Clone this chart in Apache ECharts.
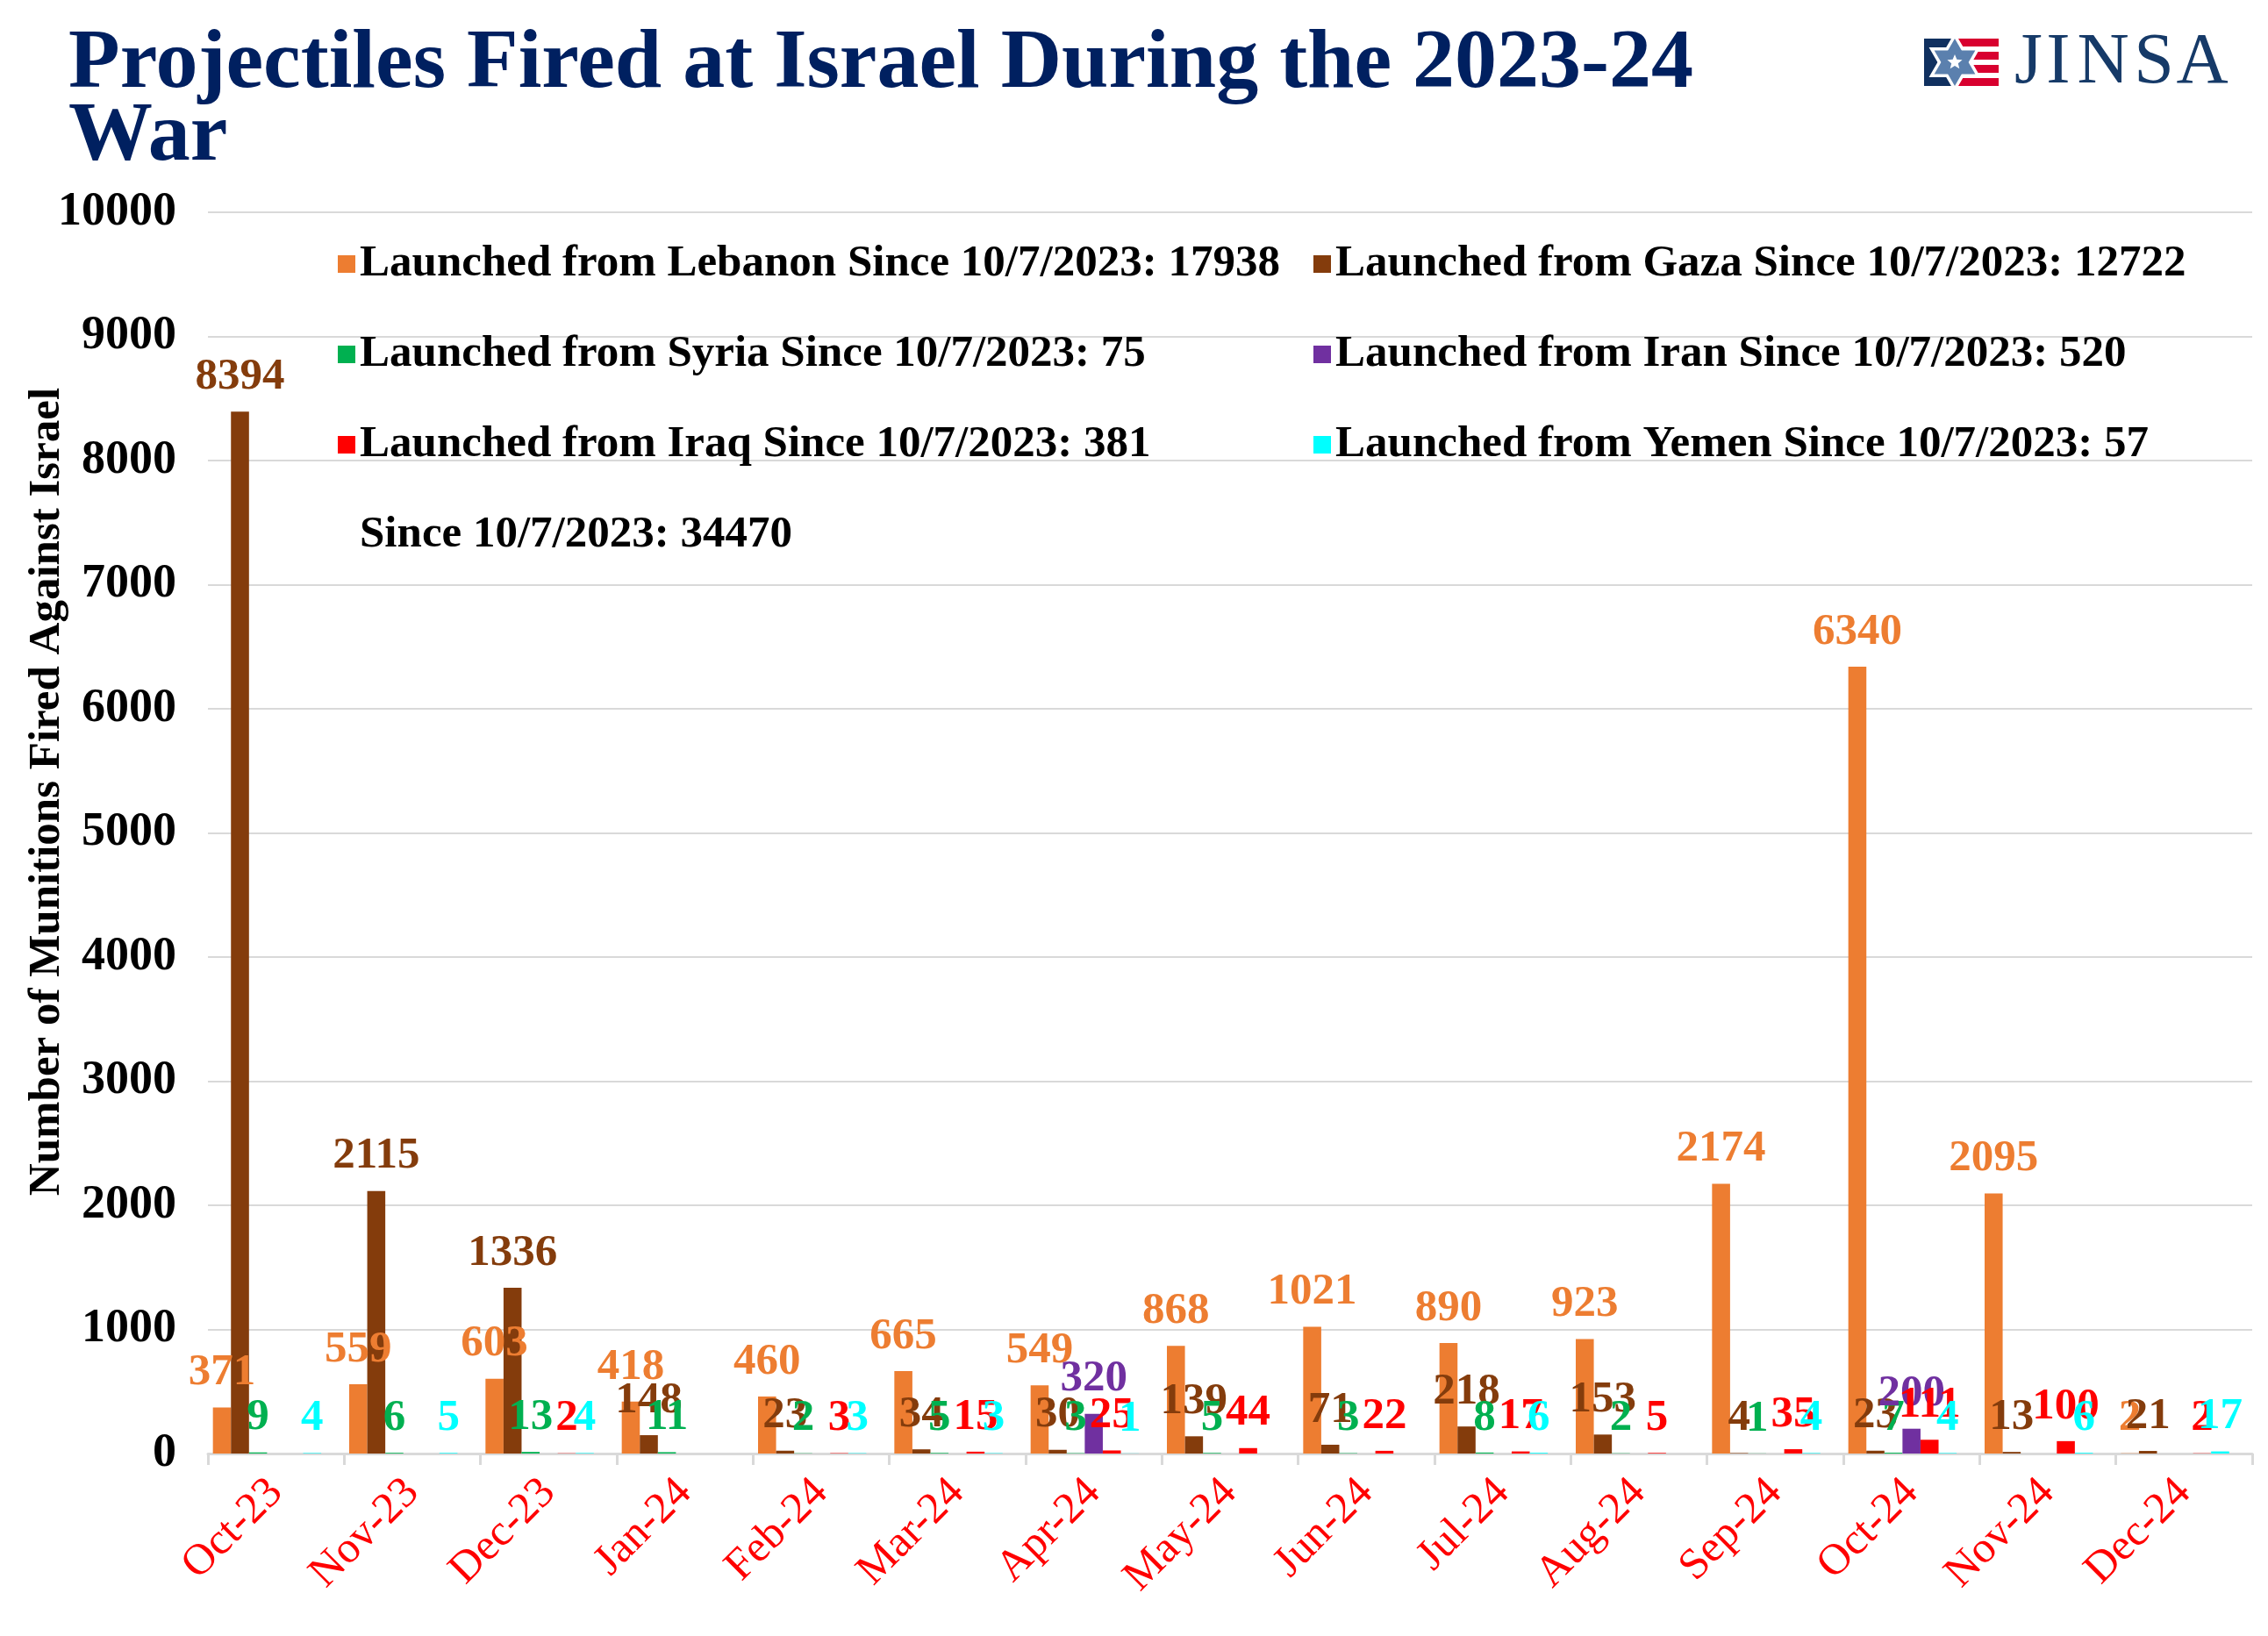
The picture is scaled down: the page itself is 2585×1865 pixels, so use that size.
<!DOCTYPE html>
<html>
<head>
<meta charset="utf-8">
<script src="https://cdn.jsdelivr.net/npm/echarts@6/dist/echarts.min.js"></script>
<style>
html,body{margin:0;padding:0;background:#fff;}
#chart{width:2585px;height:1865px;}
</style>
</head>
<body>
<div id="chart"></div>
<script>
// ---- data ----
const categories = ['Oct-23','Nov-23','Dec-23','Jan-24','Feb-24','Mar-24','Apr-24','May-24','Jun-24','Jul-24','Aug-24','Sep-24','Oct-24','Nov-24','Dec-24'];
const lebanon = [371, 559, 603, 418, 460, 665, 549, 868, 1021, 890, 923, 2174, 6340, 2095, 2];
const gaza    = [8394, 2115, 1336, 148, 23, 34, 30, 139, 71, 218, 153, 4, 23, 13, 21];
const syria   = [9, 6, 13, 11, 2, 5, 3, 5, 3, 8, 2, 1, 7, null, null];
const iran    = [null, null, null, null, null, null, 320, null, null, null, null, null, 200, null, null];
const iraq    = [null, null, 2, null, 3, 15, 25, 44, 22, 17, 5, 35, 111, 100, 2];
const yemen   = [4, 5, 4, null, 3, 3, 1, null, null, 6, null, 4, 4, 6, 17];
const seriesNames = [
  'Launched from Lebanon Since 10/7/2023: 17938',
  'Launched from Gaza Since 10/7/2023: 12722',
  'Launched from Syria Since 10/7/2023: 75',
  'Launched from Iran Since 10/7/2023: 520',
  'Launched from Iraq Since 10/7/2023: 381',
  'Launched from Yemen Since 10/7/2023: 57',
  'Since 10/7/2023: 34470'
];
const yTickMin = 0, yTickMax = 10000, yTickStep = 1000;
const titleText = 'Projectiles Fired at Israel During the 2023-24\nWar';
const yAxisTitle = 'Number of Munitions Fired Against Israel';
const logoLetters = ['J','I','N','S','A'];

// ---- styling ----
const colors = ['#ED7D31', '#843C0C', '#00B050', '#7030A0', '#FF0000', '#00FFFF'];
const SERIF = "'Liberation Serif', 'Times New Roman', serif";

const chart = echarts.init(document.getElementById('chart'), null, {renderer: 'canvas'});

function barSeries(name, data, color) {
  return {
    name: name,
    type: 'bar',
    data: data,
    itemStyle: {color: color},
    barGap: '0%',
    barCategoryGap: '7.3%',
    label: {
      show: true,
      position: 'top',
      distance: 14,
      color: color,
      fontFamily: SERIF,
      fontWeight: 'bold',
      fontSize: 51
    }
  };
}

const seriesData = [lebanon, gaza, syria, iran, iraq, yemen];
const series = seriesData.map((d, i) => barSeries(seriesNames[i], d, colors[i]));
series.push({
  name: seriesNames[6],
  type: 'bar',
  data: [],
  itemStyle: {color: 'rgba(0,0,0,0)'},
  barGap: '0%',
  barCategoryGap: '7.3%'
});

// logo graphics
function hexPts(cx, cy, R, up) {
  const s = up ? -1 : 1;
  return [[cx, cy + s * R], [cx + R * 0.866, cy - s * R / 2], [cx - R * 0.866, cy - s * R / 2]];
}
function starPts(cx, cy, R, r) {
  const pts = [];
  for (let i = 0; i < 10; i++) {
    const a = -Math.PI / 2 + i * Math.PI / 5;
    const rr = i % 2 === 0 ? R : r;
    pts.push([cx + rr * Math.cos(a), cy + rr * Math.sin(a)]);
  }
  return pts;
}
const sx = 2228, sy = 71, SR = 27;
const logoGraphics = [
  {type: 'rect', shape: {x: 2193, y: 44, width: 36, height: 54}, style: {fill: '#10305f'}},
  {type: 'rect', shape: {x: 2229, y: 44, width: 49, height: 9}, style: {fill: '#d8002f'}},
  {type: 'rect', shape: {x: 2229, y: 59, width: 49, height: 9}, style: {fill: '#d8002f'}},
  {type: 'rect', shape: {x: 2229, y: 74, width: 49, height: 9}, style: {fill: '#d8002f'}},
  {type: 'rect', shape: {x: 2229, y: 89, width: 49, height: 9}, style: {fill: '#d8002f'}},
  {type: 'polygon', shape: {points: hexPts(sx, sy, SR, true)}, style: {fill: '#fff', stroke: '#fff', lineWidth: 7, lineJoin: 'miter'}},
  {type: 'polygon', shape: {points: hexPts(sx, sy, SR, false)}, style: {fill: '#fff', stroke: '#fff', lineWidth: 7, lineJoin: 'miter'}},
  {type: 'polygon', shape: {points: hexPts(sx, sy, SR, true)}, style: {fill: '#5b80ae'}},
  {type: 'polygon', shape: {points: hexPts(sx, sy, SR, false)}, style: {fill: '#5b80ae'}},
  {type: 'polygon', shape: {points: starPts(sx, sy, 9, 4)}, style: {fill: '#fff'}}
];
const letterX = [2312, 2346, 2397, 2455, 2510];
logoLetters.forEach((ch, i) => {
  logoGraphics.push({
    type: 'text',
    x: letterX[i], y: 72,
    style: {text: ch, fill: '#163a68', font: "82px 'Liberation Serif', serif", align: 'center', verticalAlign: 'middle'}
  });
});

const legendText = {
  color: '#000',
  fontFamily: SERIF,
  fontWeight: 'bold',
  fontSize: 51,
  lineHeight: 52
};

const option = {
  animation: false,
  backgroundColor: '#ffffff',
  title: {
    text: titleText,
    left: 73,
    top: 28,
    textStyle: {
      color: '#002060',
      fontFamily: SERIF,
      fontWeight: 'bold',
      fontSize: 96,
      lineHeight: 83
    }
  },
  graphic: logoGraphics,
  legend: [
    {
      orient: 'vertical',
      left: 380,
      top: 270,
      itemWidth: 20,
      itemHeight: 20,
      itemGap: 51,
      icon: 'rect',
      selectedMode: false,
      textStyle: legendText,
      data: [seriesNames[0], seriesNames[2], seriesNames[4], {name: seriesNames[6], icon: 'none'}]
    },
    {
      orient: 'vertical',
      left: 1492,
      top: 270,
      itemWidth: 20,
      itemHeight: 20,
      itemGap: 51,
      icon: 'rect',
      selectedMode: false,
      textStyle: legendText,
      data: [seriesNames[1], seriesNames[3], seriesNames[5]]
    }
  ],
  grid: {left: 237, right: 18, top: 242, bottom: 208, containLabel: false, outerBoundsMode: 'none'},
  xAxis: {
    type: 'category',
    data: categories,
    boundaryGap: true,
    axisLine: {show: true, lineStyle: {color: '#d9d9d9', width: 3}},
    axisTick: {show: true, alignWithLabel: false, length: 13, lineStyle: {color: '#d9d9d9', width: 3}},
    axisLabel: {
      rotate: 45,
      margin: 37,
      color: '#FF0000',
      fontFamily: SERIF,
      fontSize: 50,
      interval: 0
    }
  },
  yAxis: {
    type: 'value',
    min: yTickMin,
    max: yTickMax,
    interval: yTickStep,
    name: yAxisTitle,
    nameLocation: 'middle',
    nameRotate: 90,
    nameGap: 158,
    nameMoveOverlap: false,
    nameTextStyle: {
      color: '#000',
      fontFamily: SERIF,
      fontWeight: 'bold',
      fontSize: 51,
      padding: [0, 0, 0, 94]
    },
    axisLine: {show: false},
    axisTick: {show: false},
    splitLine: {show: true, lineStyle: {color: '#d9d9d9', width: 2}},
    axisLabel: {
      color: '#000',
      fontFamily: SERIF,
      fontWeight: 'bold',
      fontSize: 54,
      margin: 36,
      formatter: function (v) { return String(v); }
    }
  },
  series: series
};
chart.setOption(option);
</script>
</body>
</html>
